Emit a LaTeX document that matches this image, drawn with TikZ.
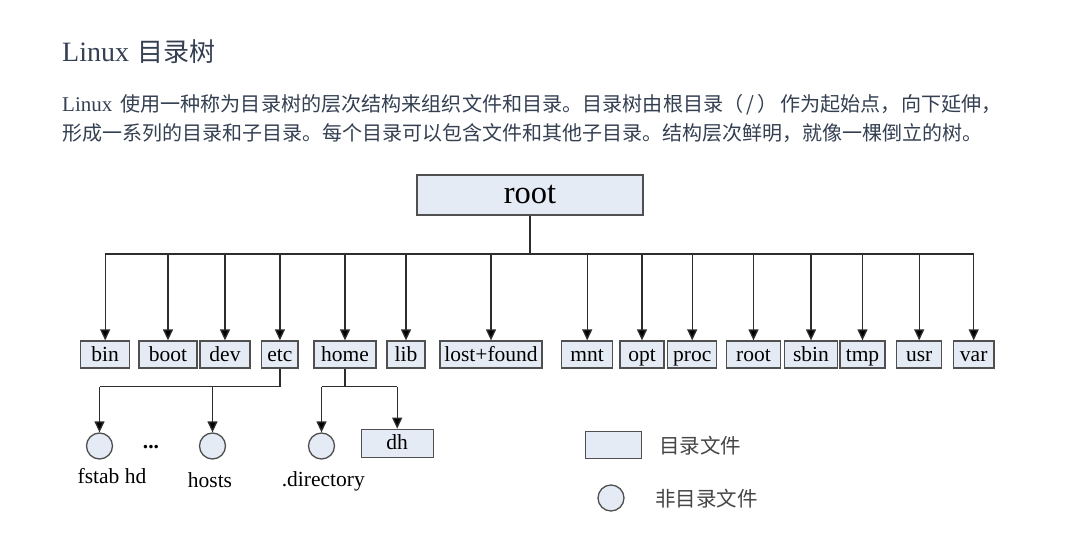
\documentclass[tikz,border=0pt]{standalone}
\usepackage{fontspec}
\setmainfont{Liberation Serif}
\newfontfamily\cjk{Noto Sans CJK SC}
\usetikzlibrary{arrows.meta}
\definecolor{boxfill}{RGB}{229,235,245}
\definecolor{boxline}{RGB}{80,80,80}
\definecolor{linecol}{RGB}{45,45,45}
\definecolor{textcol}{RGB}{52,64,82}
\definecolor{legcol}{RGB}{70,70,70}
\begin{document}
\begin{tikzpicture}[x=1pt,y=-1pt,
  dirbox/.style={draw=boxline, fill=boxfill, line width=1.3pt, inner sep=0pt,
    minimum height=27pt, font=\fontsize{21.5}{24}\selectfont, text height=17pt, text depth=4pt},
  filecirc/.style={circle, draw=boxline, fill=boxfill, line width=1.3pt, minimum size=26pt, inner sep=0pt},
  conn/.style={draw=linecol, line width=1.3pt},
  arr/.style={conn, -{Triangle[length=11pt,width=10pt,fill=black]}},
  lbl/.style={inner sep=0pt, anchor=base, font=\fontsize{21.5}{24}\selectfont},
  para/.style={inner sep=0pt, anchor=base west, text=textcol},
  legtext/.style={inner sep=0pt, anchor=west, text=legcol, font=\cjk\fontsize{20.5}{24}\selectfont}]
\useasboundingbox[fill=white] (0,0) rectangle (1071,548);

% heading and paragraph
\node[para] (title) at (62,62) {\fontsize{28}{32}\selectfont Linux\hspace{8pt}{\cjk\fontsize{26}{30}\selectfont 目录树}};
\node[para] (line1) at (62,112) {\fontsize{21}{24}\selectfont Linux\hspace{8pt}{\cjk\fontsize{20.1}{24}\selectfont 使用一种称为目录树的层次结构来组织文件和目录。目录树由根目录（\hspace{3pt}/\hspace{3pt}）\hspace{3pt}作为起始点，向下延伸，}};
\node[para] (line2) at (62,141) {\cjk\fontsize{20}{24}\selectfont 形成一系列的目录和子目录。每个目录可以包含文件和其他子目录。结构层次鲜明，就像一棵倒立的树。};

% root
\node[dirbox, minimum width=226pt, minimum height=40pt, font=\fontsize{32.5}{36}\selectfont,
  text height=22pt, text depth=4pt] (top) at (530,195) {root};

% first level
\node[dirbox, minimum width=49pt]   (bin)   at (105.2,354.5) {bin};
\node[dirbox, minimum width=58pt]   (boot)  at (168,354.5)   {boot};
\node[dirbox, minimum width=50pt]   (dev)   at (225,354.5)   {dev};
\node[dirbox, minimum width=36.3pt] (etc)   at (279.9,354.5) {etc};
\node[dirbox, minimum width=62pt]   (home)  at (345,354.5)   {home};
\node[dirbox, minimum width=38pt]   (lib)   at (406,354.5)   {lib};
\node[dirbox, minimum width=102pt]  (lost)  at (491,354.5)   {lost+found};
\node[dirbox, minimum width=51pt]   (mnt)   at (587.2,354.5) {mnt};
\node[dirbox, minimum width=44pt]   (opt)   at (642,354.5)   {opt};
\node[dirbox, minimum width=49pt]   (proc)  at (692.2,354.5) {proc};
\node[dirbox, minimum width=53.6pt] (rootd) at (753.5,354.5) {root};
\node[dirbox, minimum width=53.4pt] (sbin)  at (811,354.5)   {sbin};
\node[dirbox, minimum width=45pt]   (tmp)   at (862.5,354.5) {tmp};
\node[dirbox, minimum width=45pt]   (usr)   at (919.2,354.5) {usr};
\node[dirbox, minimum width=40.7pt] (var)   at (973.7,354.5) {var};

\coordinate (bus) at (530,254);
\draw[conn] (top.south) -- (bus);
\draw[conn] (bus -| bin.north) -- (bus -| var.north);
\foreach \n in {bin,boot,dev,etc,home,lib,lost,mnt,opt,proc,rootd,sbin,tmp,usr,var}
  \draw[arr] (bus -| \n.north) -- (\n.north);

% second level
\node[filecirc] (fstab) at (99.5,446) {};
\node[filecirc] (hosts) at (212.5,446) {};
\node[filecirc] (dir)   at (321.5,446) {};
\node[dirbox, minimum width=72pt, minimum height=28pt] (dh) at (397.2,443.3) {dh};

\node[lbl] (fstablbl) at (112,483) {fstab hd};
\node[lbl] (hostslbl) at (210,487) {hosts};
\node[lbl] (dirlbl)   at (323.3,486) {.directory};
\node[lbl] (dots)     at (151,448) {\textbf{...}};

\coordinate (etcj) at (279.9,386.7);
\coordinate (homej) at (345,386.7);
\draw[conn] (etc.south) -- (etcj) -- (etcj -| fstab.north);
\draw[arr] (etcj -| fstab.north) -- (fstab.north);
\draw[arr] (etcj -| hosts.north) -- (hosts.north);
\draw[conn] (home.south) -- (homej);
\draw[conn] (homej -| dir.north) -- (homej -| dh.north);
\draw[arr] (homej -| dir.north) -- (dir.north);
\draw[arr] (homej -| dh.north) -- (dh.north);

% legend
\node[dirbox, minimum width=56pt, minimum height=26.6pt] (legbox) at (613.7,445) {};
\node[legtext] (legboxtxt) at (659,446) {目录文件};
\node[filecirc] (legcirc) at (611,498) {};
\node[legtext] (legcirctxt) at (655,499) {非目录文件};
\end{tikzpicture}
\end{document}
